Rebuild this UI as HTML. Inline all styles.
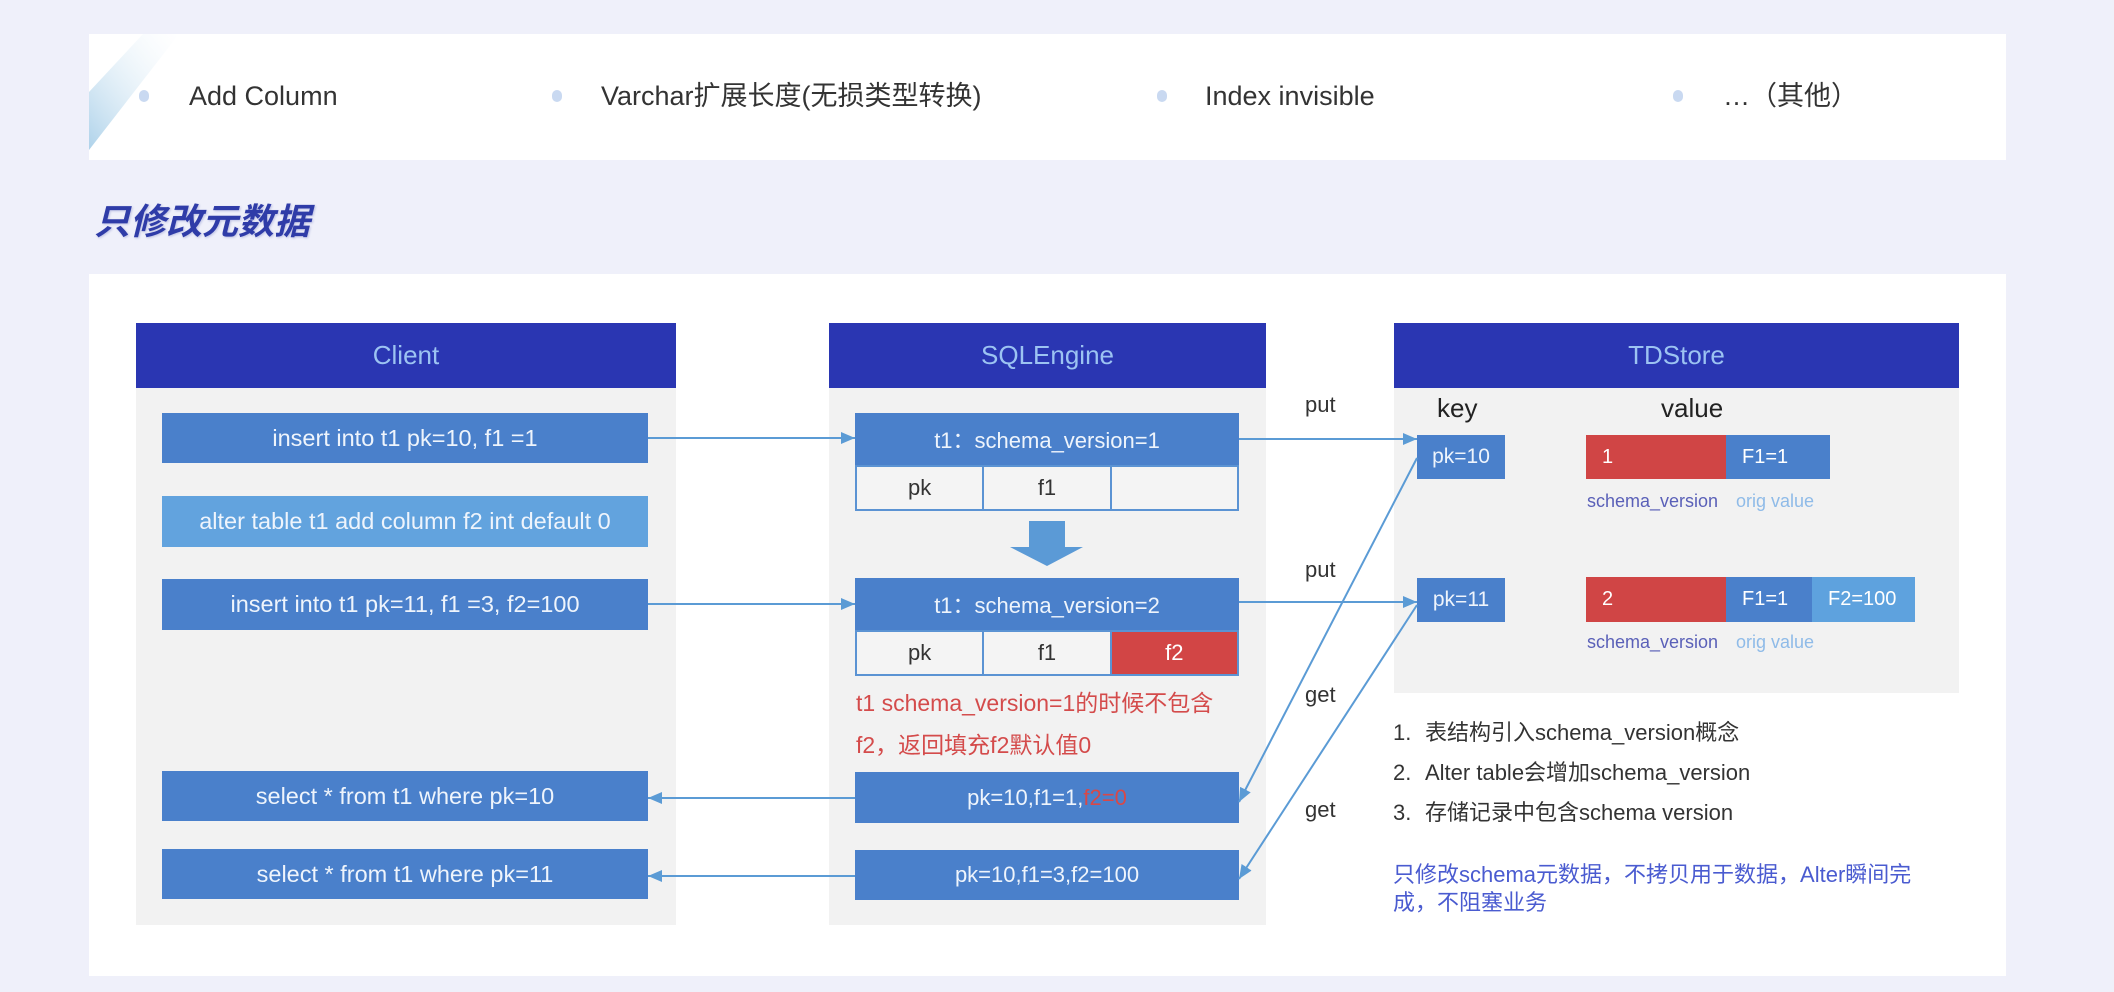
<!DOCTYPE html>
<html><head><meta charset="utf-8">
<style>
*{margin:0;padding:0;box-sizing:border-box}
html,body{width:2114px;height:992px;overflow:hidden}
body{background:#eff0fa;position:relative;font-family:"Liberation Sans","Noto Sans CJK SC",sans-serif;color:#333}
.a{position:absolute}
.box{position:absolute;display:flex;align-items:center;justify-content:center;white-space:nowrap}
.hdr{background:#2a36b2;color:#9cc3f2;font-size:26px}
.gray{position:absolute;background:#f2f2f2}
.row{background:#4a80cb;color:#eef4fc;font-size:22px}
.crow{font-size:23.5px}
.t{position:absolute;white-space:nowrap;line-height:30px}
.bul{position:absolute;width:10px;height:12px;border-radius:5px;background:#c9d9f1}
.cells{position:absolute;border:2px solid #5b93d3;background:#f4f4f4;display:flex;font-size:22px;color:#333}
.cells div{flex:1;display:flex;align-items:center;justify-content:center}
.cells div+div{border-left:2px solid #5b93d3}
.bar{position:absolute;display:flex;align-items:center;color:#fff;font-size:20px;padding-left:16px}
</style></head><body>

<!-- top band -->
<div class="a" style="left:89px;top:34px;width:1917px;height:126px;background:#fff"></div>
<svg class="a" style="left:0;top:0" width="300" height="200">
  <defs><linearGradient id="dg" x1="1" y1="0" x2="0" y2="1">
    <stop offset="0" stop-color="#ffffff" stop-opacity="0.2"/>
    <stop offset="1" stop-color="#aed2ea"/>
  </linearGradient></defs>
  <polygon points="143,34 179,34 89,150 89,92" fill="url(#dg)"/>
</svg>
<div class="bul" style="left:139px;top:90px"></div>
<div class="bul" style="left:552px;top:90px"></div>
<div class="bul" style="left:1157px;top:90px"></div>
<div class="bul" style="left:1673px;top:90px"></div>
<div class="t" style="left:189px;top:81px;font-size:27px">Add Column</div>
<div class="t" style="left:601px;top:81px;font-size:27px">Varchar扩展长度(无损类型转换)</div>
<div class="t" style="left:1205px;top:81px;font-size:27px">Index invisible</div>
<div class="t" style="left:1723px;top:81px;font-size:27px">…（其他）</div>

<!-- title -->
<div class="t" style="left:94px;top:200px;line-height:44px;font-size:36px;font-weight:bold;font-style:italic;color:#2f3ca8;text-shadow:1px 1px 2px rgba(47,60,168,0.25)">只修改元数据</div>

<!-- main panel -->
<div class="a" style="left:89px;top:274px;width:1917px;height:702px;background:#fff"></div>

<!-- Client -->
<div class="box hdr" style="left:136px;top:323px;width:540px;height:65px">Client</div>
<div class="gray" style="left:136px;top:388px;width:540px;height:537px"></div>
<div class="box row crow" style="left:162px;top:413px;width:486px;height:50px">insert into t1 pk=10, f1 =1</div>
<div class="box row crow" style="left:162px;top:496px;width:486px;height:51px;background:#62a3de">alter table t1 add column f2 int default 0</div>
<div class="box row crow" style="left:162px;top:579px;width:486px;height:51px">insert into t1 pk=11, f1 =3, f2=100</div>
<div class="box row crow" style="left:162px;top:771px;width:486px;height:50px">select * from t1 where pk=10</div>
<div class="box row crow" style="left:162px;top:849px;width:486px;height:50px">select * from t1 where pk=11</div>

<!-- SQLEngine -->
<div class="box hdr" style="left:829px;top:323px;width:437px;height:65px">SQLEngine</div>
<div class="gray" style="left:829px;top:388px;width:437px;height:537px"></div>
<div class="box row" style="left:855px;top:413px;width:384px;height:52px">t1：schema_version=1</div>
<div class="cells" style="left:855px;top:465px;width:384px;height:46px"><div>pk</div><div>f1</div><div></div></div>
<svg class="a" style="left:1000px;top:515px" width="100" height="60">
  <polygon points="29,6 65,6 65,32 83,32 47,51 10,32 29,32" fill="#5b9ad6"/>
</svg>
<div class="box row" style="left:855px;top:578px;width:384px;height:52px">t1：schema_version=2</div>
<div class="cells" style="left:855px;top:630px;width:384px;height:46px"><div>pk</div><div>f1</div><div style="background:#d24545;color:#fff">f2</div></div>
<div class="t" style="left:856px;top:688px;font-size:23px;color:#d44b4b">t1 schema_version=1的时候不包含</div>
<div class="t" style="left:856px;top:730px;font-size:23px;color:#d44b4b">f2，返回填充f2默认值0</div>
<div class="box row" style="left:855px;top:772px;width:384px;height:51px">pk=10,f1=1,<span style="color:#d84848">f2=0</span></div>
<div class="box row" style="left:855px;top:850px;width:384px;height:50px">pk=10,f1=3,f2=100</div>

<!-- labels -->
<div class="t" style="left:1305px;top:390px;font-size:22px">put</div>
<div class="t" style="left:1305px;top:555px;font-size:22px">put</div>
<div class="t" style="left:1305px;top:680px;font-size:22px">get</div>
<div class="t" style="left:1305px;top:795px;font-size:22px">get</div>

<!-- TDStore -->
<div class="box hdr" style="left:1394px;top:323px;width:565px;height:65px">TDStore</div>
<div class="gray" style="left:1394px;top:388px;width:565px;height:305px"></div>
<div class="t" style="left:1437px;top:393px;font-size:26px;color:#222">key</div>
<div class="t" style="left:1661px;top:393px;font-size:26px;color:#222">value</div>
<div class="box row" style="left:1417px;top:435px;width:88px;height:44px;font-size:21px">pk=10</div>
<div class="box row" style="left:1417px;top:578px;width:88px;height:44px;font-size:21px">pk=11</div>
<div class="bar" style="left:1586px;top:435px;width:140px;height:44px;background:#d04545">1</div>
<div class="bar" style="left:1726px;top:435px;width:104px;height:44px;background:#4a80cb">F1=1</div>
<div class="bar" style="left:1586px;top:577px;width:140px;height:45px;background:#d04545">2</div>
<div class="bar" style="left:1726px;top:577px;width:86px;height:45px;background:#4a80cb">F1=1</div>
<div class="bar" style="left:1812px;top:577px;width:103px;height:45px;background:#5ea2de">F2=100</div>
<div class="t" style="left:1587px;top:486px;font-size:18px;color:#5a60b8">schema_version</div>
<div class="t" style="left:1736px;top:486px;font-size:18px;color:#8fbbe8">orig value</div>
<div class="t" style="left:1587px;top:627px;font-size:18px;color:#5a60b8">schema_version</div>
<div class="t" style="left:1736px;top:627px;font-size:18px;color:#8fbbe8">orig value</div>

<!-- list -->
<div class="t" style="left:1393px;top:718px;font-size:22px;color:#333"><span style="display:inline-block;width:32px">1.</span>表结构引入schema_version概念</div>
<div class="t" style="left:1393px;top:758px;font-size:22px;color:#333"><span style="display:inline-block;width:32px">2.</span>Alter table会增加schema_version</div>
<div class="t" style="left:1393px;top:798px;font-size:22px;color:#333"><span style="display:inline-block;width:32px">3.</span>存储记录中包含schema version</div>
<div class="t" style="left:1393px;top:861px;font-size:22px;line-height:28px;color:#4a5bd0">只修改schema元数据，不拷贝用于数据，Alter瞬间完<br>成，不阻塞业务</div>

<!-- connectors -->
<svg class="a" style="left:0;top:0;pointer-events:none" width="2114" height="992">
  <defs>
    <marker id="ah" markerWidth="14" markerHeight="12" refX="14" refY="6" orient="auto" markerUnits="userSpaceOnUse">
      <path d="M0,0 L14,6 L0,12 z" fill="#5b9bd5"/>
    </marker>
  </defs>
  <g stroke="#5b9bd5" stroke-width="2" fill="none" marker-end="url(#ah)">
    <line x1="648" y1="438" x2="855" y2="438"/>
    <line x1="648" y1="604" x2="855" y2="604"/>
    <line x1="1239" y1="439" x2="1417" y2="439"/>
    <line x1="1239" y1="602" x2="1417" y2="602"/>
    <line x1="1417" y1="458" x2="1239" y2="802"/>
    <line x1="1417" y1="605" x2="1239" y2="879"/>
    <line x1="855" y1="798" x2="648" y2="798"/>
    <line x1="855" y1="876" x2="648" y2="876"/>
  </g>
</svg>
</body></html>
